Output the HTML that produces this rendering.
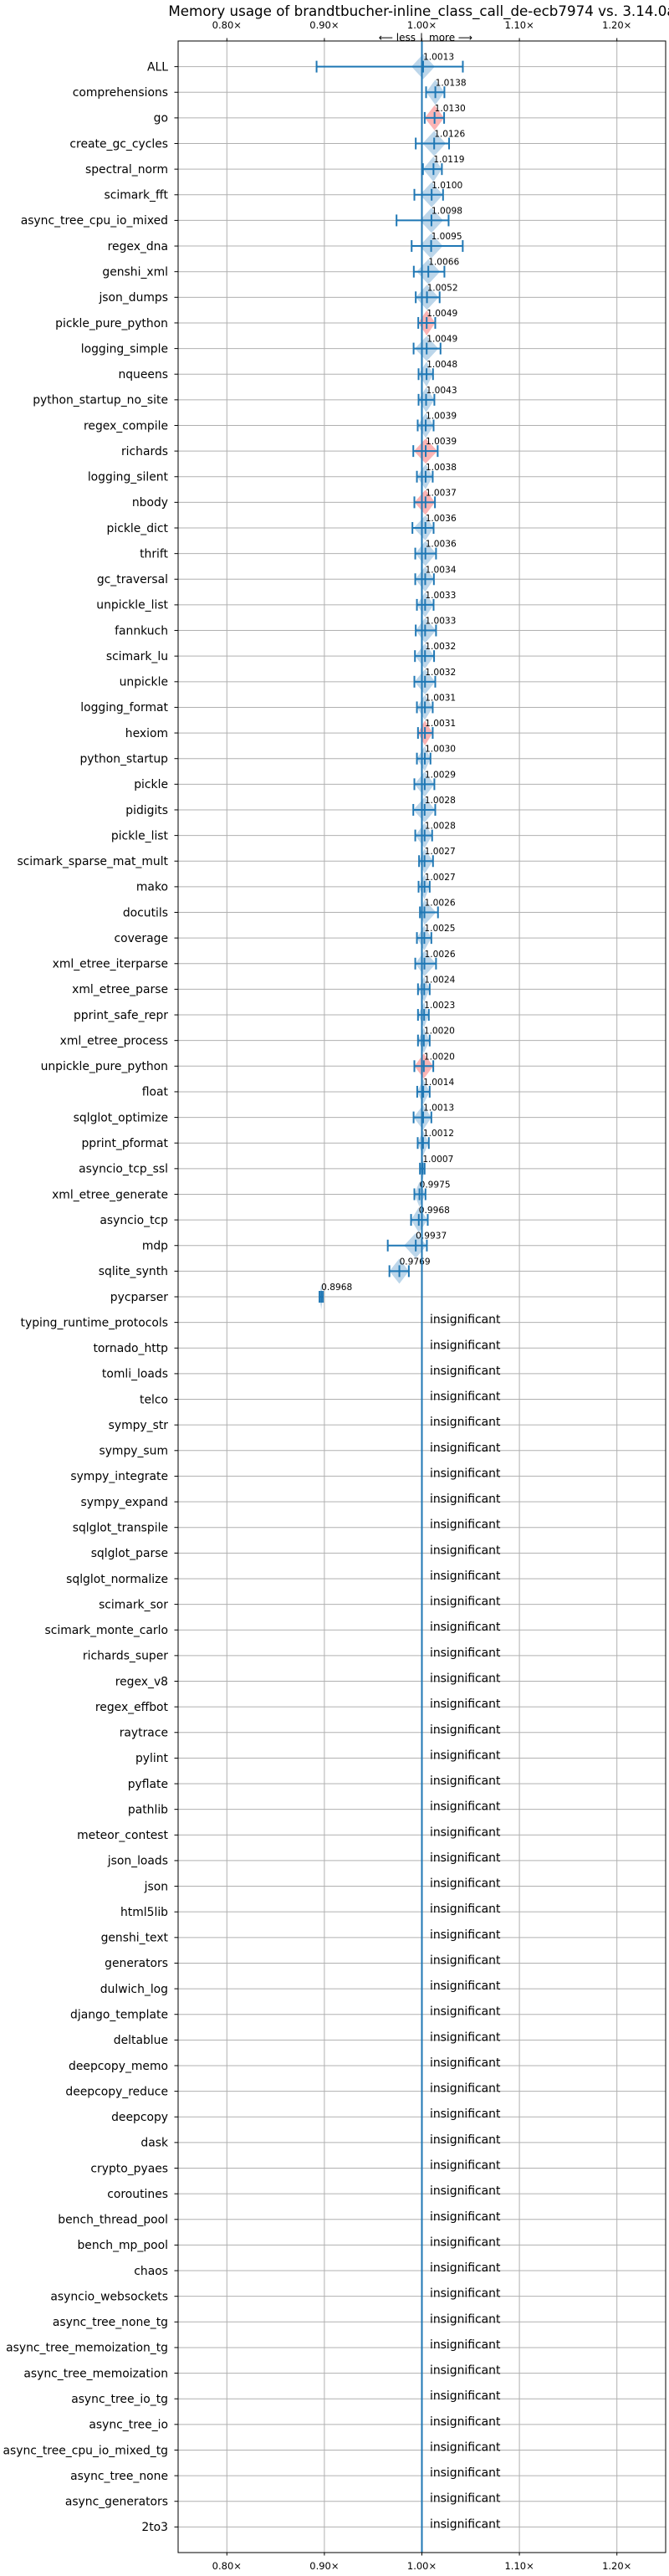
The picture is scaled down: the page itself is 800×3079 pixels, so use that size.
<!DOCTYPE html>
<html><head><meta charset="utf-8"><title>Memory usage chart</title>
<style>
html,body{margin:0;padding:0;background:#fff;}
svg{display:block;font-family:"DejaVu Sans","Liberation Sans",sans-serif;}
</style></head>
<body>
<svg id="chart" width="800" height="3079" viewBox="0 0 800 3079" xmlns="http://www.w3.org/2000/svg">
<rect x="0" y="0" width="800" height="3079" fill="#fff"/>
</svg>
<script>
const benchmarks = ["ALL","comprehensions","go","create_gc_cycles","spectral_norm","scimark_fft","async_tree_cpu_io_mixed","regex_dna","genshi_xml","json_dumps","pickle_pure_python","logging_simple","nqueens","python_startup_no_site","regex_compile","richards","logging_silent","nbody","pickle_dict","thrift","gc_traversal","unpickle_list","fannkuch","scimark_lu","unpickle","logging_format","hexiom","python_startup","pickle","pidigits","pickle_list","scimark_sparse_mat_mult","mako","docutils","coverage","xml_etree_iterparse","xml_etree_parse","pprint_safe_repr","xml_etree_process","unpickle_pure_python","float","sqlglot_optimize","pprint_pformat","asyncio_tcp_ssl","xml_etree_generate","asyncio_tcp","mdp","sqlite_synth","pycparser"];
const medians = [1.0013,1.0138,1.0130,1.0126,1.0119,1.0100,1.0098,1.0095,1.0066,1.0052,1.0049,1.0049,1.0048,1.0043,1.0039,1.0039,1.0038,1.0037,1.0036,1.0036,1.0034,1.0033,1.0033,1.0032,1.0032,1.0031,1.0031,1.0030,1.0029,1.0028,1.0028,1.0027,1.0027,1.0026,1.0025,1.0026,1.0024,1.0023,1.0020,1.0020,1.0014,1.0013,1.0012,1.0007,0.9975,0.9968,0.9937,0.9769,0.8968];
const mins = [0.892,1.0043,1.0029,0.9937,1.0011,0.9923,0.974,0.9895,0.9917,0.9937,0.9963,0.9915,0.9966,0.9966,0.9957,0.9912,0.9949,0.9923,0.9903,0.9932,0.9932,0.9949,0.9937,0.9929,0.9923,0.9949,0.996,0.9949,0.9923,0.9912,0.9932,0.9971,0.9966,0.998,0.9949,0.9932,0.996,0.996,0.996,0.9923,0.9952,0.9915,0.9957,0.998,0.9923,0.9889,0.965,0.9667,0.8950];
const maxs = [1.042,1.0231,1.0228,1.0279,1.0205,1.0217,1.0274,1.0419,1.0231,1.0182,1.0137,1.0191,1.0114,1.0128,1.012,1.0162,1.0111,1.0134,1.012,1.0145,1.0123,1.012,1.0145,1.0125,1.0137,1.0111,1.0111,1.0088,1.0128,1.0137,1.0105,1.0114,1.008,1.0165,1.0097,1.0145,1.008,1.0071,1.008,1.0117,1.008,1.0097,1.0071,1.0028,1.0037,1.006,1.0051,0.9866,0.8985];
const redRows = ["go","pickle_pure_python","richards","nbody","hexiom","unpickle_pure_python"];
const insignificant = ["typing_runtime_protocols","tornado_http","tomli_loads","telco","sympy_str","sympy_sum","sympy_integrate","sympy_expand","sqlglot_transpile","sqlglot_parse","sqlglot_normalize","scimark_sor","scimark_monte_carlo","richards_super","regex_v8","regex_effbot","raytrace","pylint","pyflate","pathlib","meteor_contest","json_loads","json","html5lib","genshi_text","generators","dulwich_log","django_template","deltablue","deepcopy_memo","deepcopy_reduce","deepcopy","dask","crypto_pyaes","coroutines","bench_thread_pool","bench_mp_pool","chaos","asyncio_websockets","async_tree_none_tg","async_tree_memoization_tg","async_tree_memoization","async_tree_io_tg","async_tree_io","async_tree_cpu_io_mixed_tg","async_tree_none","async_generators","2to3"];
const xTicks = [0.8,0.9,1.0,1.1,1.2];
const xTickLabels = ["0.80×","0.90×","1.00×","1.10×","1.20×"];

const NS = "http://www.w3.org/2000/svg";
const svg = document.getElementById("chart");
const L = 213, R = 796, T = 49, B = 3051;
const X0 = 0.75, X1 = 1.25;
const allRows = benchmarks.concat(insignificant);
const nRows = allRows.length;
function xs(v){ return L + (v - X0) / (X1 - X0) * (R - L); }
function ys(i){ return T + (i + 1) / (nRows + 1) * (B - T); }
function mk(tag, attrs, parent){
  const e = document.createElementNS(NS, tag);
  for (const k in attrs) e.setAttribute(k, attrs[k]);
  (parent || svg).appendChild(e);
  return e;
}
const BLUE = "#1f77b4";
const VMAX = 0.012;

const title = mk("text", {x: (L+R)/2, y: 19, "text-anchor": "middle", "font-size": "16.7", fill: "#000"});


title.textContent = "Memory usage of brandtbucher-inline_class_call_de-ecb7974 vs. 3.14.0a";

const grid = mk("g", {});


xTicks.forEach((t, k) => {
  const gl = mk("line", {x1: xs(t), x2: xs(t), y1: T, y2: B, stroke: "#b0b0b0", "stroke-width": 1}, grid);
  
  
  [[T - 3.5, T, 34], [B, B + 3.5, 3071]].forEach(([a, b, ty]) => {
    const tk = mk("line", {x1: xs(t), x2: xs(t), y1: a, y2: b, stroke: "#000", "stroke-width": 1});
    
    
    const tl = mk("text", {x: xs(t), y: ty, "text-anchor": "middle", "font-size": "11.5", fill: "#000"});
    
    
    tl.textContent = xTickLabels[k];
  });
});
allRows.forEach((name, i) => {
  const y = ys(i);
  const gl = mk("line", {x1: L, x2: R, y1: y, y2: y, stroke: "#b0b0b0", "stroke-width": 1}, grid);
  
  
  const tk = mk("line", {x1: L - 4.5, x2: L, y1: y, y2: y, stroke: "#000", "stroke-width": 1});
  
  
  const lb = mk("text", {x: 201, y: y + 4.8, "text-anchor": "end", "font-size": "13.9", fill: "#000"});
  
  
  lb.textContent = name;
});

const less = mk("text", {x: 497, y: 49, "text-anchor": "end", "font-size": "12", fill: "#000"});


less.textContent = "⟵ less";
const sep = mk("text", {x: 504, y: 49, "text-anchor": "middle", "font-size": "12", fill: "#000"});


sep.textContent = "|";
const more = mk("text", {x: 513, y: 49, "text-anchor": "start", "font-size": "12", fill: "#000"});


more.textContent = "more ⟶";

benchmarks.forEach((name, i) => {
  const y = ys(i);
  const m = xs(medians[i]), a = xs(mins[i]), b = xs(maxs[i]);
  const va = xs(Math.max(mins[i], medians[i] - VMAX)), vb = xs(Math.min(maxs[i], medians[i] + VMAX));
  const g = mk("g", {});
  
  
  const red = redRows.indexOf(name) >= 0;
  const v = mk("polygon", {points: `${va},${y} ${m},${y-15} ${vb},${y} ${m},${y+15}`, fill: red ? "#fbb4b4" : "#bcd6ea"}, g);
  
  
  const ln = mk("line", {x1: a, x2: b, y1: y, y2: y, stroke: BLUE, "stroke-width": 2}, g);
  
  
  [a, m, b].forEach((px, k) => {
    const c = mk("line", {x1: px, x2: px, y1: y - 7, y2: y + 7, stroke: BLUE, "stroke-width": 2}, g);
    
    
  });
  const t = mk("text", {x: m, y: y - 8, "font-size": "10.6", fill: "#000"}, g);
  
  
  t.textContent = medians[i].toFixed(4);
});
insignificant.forEach((name, j) => {
  const y = ys(benchmarks.length + j);
  const t = mk("text", {x: 514, y: y + 1, "font-size": "13.9", fill: "#000"});
  
  
  t.textContent = "insignificant";
});

const ref = mk("line", {x1: xs(1), x2: xs(1), y1: T, y2: B, stroke: BLUE, "stroke-width": 2});



const frame = mk("rect", {x: L, y: T, width: R - L, height: B - T, fill: "none", stroke: "#000", "stroke-width": 1});


</script>
</body></html>
